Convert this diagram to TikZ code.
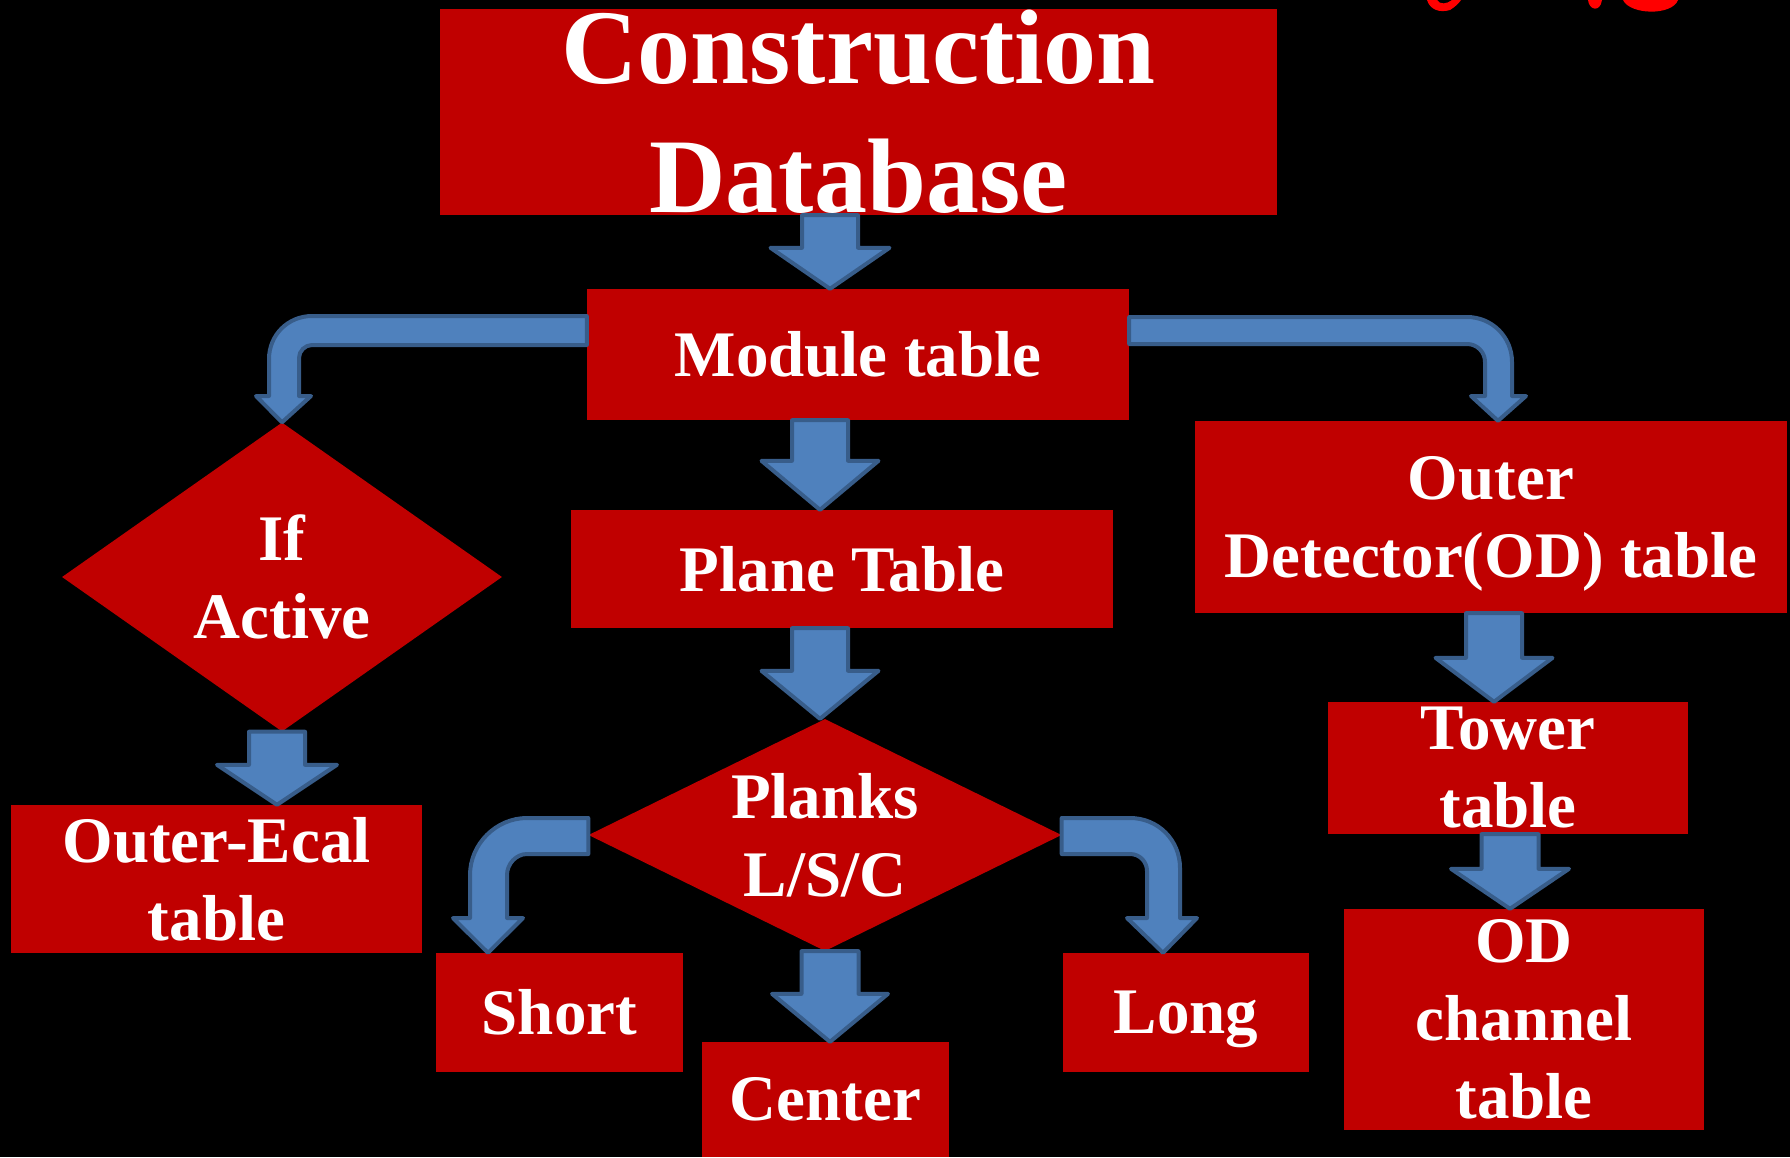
\documentclass[tikz,border=0pt]{standalone}
\usepackage{fontspec}
\setmainfont{Liberation Serif}
\usetikzlibrary{shapes.geometric,calc}
\definecolor{boxred}{HTML}{C00000}
\definecolor{arrfill}{HTML}{4F81BD}
\definecolor{arredge}{HTML}{385D8A}
\definecolor{scriptred}{HTML}{FF0000}
% straight block arrow: x, from anchor, to anchor, shaft half width, head half width, head length
\newcommand\dnarrow[6]{\path[barrow] let \p1=(#2), \p2=(#3), \p3=(#1,0) in
  (\x3-#4pt,\y1) -- (\x3+#4pt,\y1) -- (\x3+#4pt,\y2+#6pt) -- (\x3+#5pt,\y2+#6pt)
  -- (\x3,\y2) -- (\x3-#5pt,\y2+#6pt) -- (\x3-#4pt,\y2+#6pt) -- cycle;}
\begin{document}
\begin{tikzpicture}[x=1pt,y=-1pt,
  box/.style={fill=boxred, inner sep=0pt, text=white, align=center,
    font=\fontsize{65}{78}\selectfont\bfseries},
  dia/.style={box, diamond},
  barrow/.style={fill=arrfill, draw=arredge, line width=4pt, line join=round}]
\useasboundingbox (0,0) rectangle (1790,1157);
\fill[black] (0,0) rectangle (1790,1157);

% clipped red script fragments at top right
\fill[scriptred] (1427,0) .. controls (1430,10) and (1440,13) .. (1450,10) .. controls (1455,7) and (1459,3) .. (1461,0) -- (1452,0) .. controls (1447,4) and (1440,5) .. (1437,0) -- cycle;
\fill[scriptred] (1588,0) .. controls (1589,10) and (1600,13) .. (1602,0) -- cycle;
\fill[scriptred] (1623,0) .. controls (1630,15) and (1672,16) .. (1678,0) -- cycle;

% boxes
\node[box, font=\fontsize{106}{129}\selectfont\bfseries, minimum width=837pt, minimum height=206pt] (db) at (858.5,112) {Construction\\Database};
\node[box, minimum width=542pt, minimum height=131pt] (mod) at (858,354.5) {Module table};
\node[box, minimum width=542pt, minimum height=118pt] (pln) at (842,569) {Plane Table};
\node[box, text depth=0pt, minimum width=592pt, minimum height=192pt] (od) at (1491,517) {Outer\\Detector(OD) table};
\node[box, minimum width=360pt, minimum height=132pt] (tow) at (1508,768) {Tower\\table};
\node[box, minimum width=360pt, minimum height=221pt] (odc) at (1524,1019.5) {OD\\channel\\table};
\node[dia, shape aspect=1.42, minimum width=440pt, minimum height=309pt] (ifa) at (282,577) {If\\Active};
\node[box, minimum width=411pt, minimum height=148pt] (oec) at (216.5,879) {Outer-Ecal\\table};
\node[dia, shape aspect=2.04, minimum width=473pt, minimum height=232pt] (plk) at (825,835) {Planks\\L/S/C};
\node[box, minimum width=247pt, minimum height=119pt] (sht) at (559.5,1012.5) {Short};
\node[box, minimum width=247pt, minimum height=115pt] (cen) at (825.5,1099.5) {Center};
\node[box, text depth=0pt, minimum width=246pt, minimum height=119pt] (lng) at (1186,1012.5) {Long};

% straight block arrows
\dnarrow{830}{db.south}{mod.north}{28}{59.5}{41}
\dnarrow{820}{mod.south}{pln.north}{28}{58.5}{49}
\dnarrow{820}{pln.south}{plk.north}{28}{58.5}{48}
\dnarrow{277}{ifa.south}{oec.north}{28}{60}{40}
\dnarrow{1494}{od.south}{tow.north}{28}{58.5}{44}
\dnarrow{1510}{tow.south}{odc.north}{28.5}{59}{40}
\dnarrow{830}{plk.south}{cen.north}{28.5}{58}{48}

% bent block arrows
\path[barrow] (mod.west |- 0,316) -- (312,316) .. controls (288,316) and (269,335) .. (269,359)
  -- (269,396) -- (256,396) -- (ifa.north) -- (311,396) -- (299,396) -- (299,358)
  .. controls (299,351) and (305,345) .. (312,345) -- (mod.west |- 0,345) -- cycle;
\path[barrow] (mod.east |- 0,317) -- (1467,317) .. controls (1492,317) and (1512,337) .. (1512,362)
  -- (1512,396) -- (1526,396) -- (1498,0 |- od.north) -- (1471,396) -- (1485,396) -- (1485,362)
  .. controls (1485,352) and (1477,344) .. (1467,344) -- (mod.east |- 0,344) -- cycle;
\path[barrow] (plk.west |- 0,818) -- (527,818) .. controls (496,818) and (470,844) .. (470,875)
  -- (470,918) -- (453,918) -- (488,0 |- sht.north) -- (523,918) -- (507,918) -- (507,875)
  .. controls (507,864) and (516,854) .. (527,854) -- (plk.west |- 0,854) -- cycle;
\path[barrow] (plk.east |- 0,818) -- (1130,818) .. controls (1158,818) and (1180,840) .. (1180,868)
  -- (1180,918) -- (1197,918) -- (1163,0 |- lng.north) -- (1127,918) -- (1147,918) -- (1147,871)
  .. controls (1147,862) and (1140,854) .. (1130,854) -- (plk.east |- 0,854) -- cycle;
\end{tikzpicture}
\end{document}
